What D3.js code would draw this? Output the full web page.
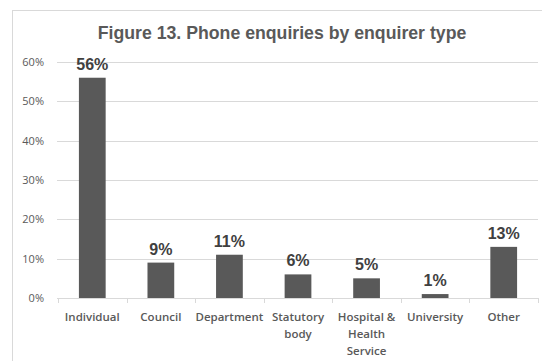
<!DOCTYPE html>
<html>
<head>
<meta charset="utf-8">
<script src="https://cdn.jsdelivr.net/npm/d3@7"></script>
<style>
  body { margin: 0; background: #fff; }
  svg { display: block; }
</style>
</head>
<body>
<div id="chart"></div>
<script>
var categories = ["Individual", "Council", "Department", "Statutory body", "Hospital & Health Service", "University", "Other"];
// label lines as they wrap under the axis
var labelLines = [["Individual"], ["Council"], ["Department"], ["Statutory", "body"], ["Hospital &", "Health", "Service"], ["University"], ["Other"]];
var values = [56, 9, 11, 6, 5, 1, 13];
var yTicks = [0, 10, 20, 30, 40, 50, 60];
var title = "Figure 13. Phone enquiries by enquirer type";

var width = 542, height = 361;

var svg = d3.select("#chart").append("svg")
    .attr("width", width)
    .attr("height", height);

// outer chart border
svg.append("rect")
    .attr("x", 12.5).attr("y", 10.5)
    .attr("width", 540).attr("height", 360)
    .attr("fill", "#fff")
    .attr("stroke", "#d9d9d9");

svg.append("text")
    .attr("x", 282).attr("y", 39)
    .attr("text-anchor", "middle")
    .attr("font-family", "Liberation Sans, Arial, sans-serif")
    .attr("font-weight", "bold")
    .attr("font-size", 17.7)
    .attr("fill", "#595959")
    .text(title);

var x = d3.scaleBand()
    .domain(categories)
    .range([58, 538])
    .padding(0);

var y = d3.scaleLinear()
    .domain([0, 60])
    .range([298, 62]);

// gridlines
svg.append("g").selectAll("line")
    .data(yTicks.filter(function(d) { return d > 0; }))
    .enter().append("line")
    .attr("x1", 57).attr("x2", 538)
    .attr("y1", function(d) { return Math.round(y(d)) + 0.5; })
    .attr("y2", function(d) { return Math.round(y(d)) + 0.5; })
    .attr("stroke", "#d9d9d9");

// y tick labels
svg.append("g").selectAll("text")
    .data(yTicks)
    .enter().append("text")
    .attr("x", 44)
    .attr("y", function(d) { return y(d) + 4; })
    .attr("text-anchor", "end")
    .attr("font-family", "Open Sans, sans-serif")
    .attr("font-size", 11)
    .attr("fill", "#595959")
    .text(function(d) { return d + "%"; });

var barW = x.bandwidth() * 0.39;

svg.append("g").selectAll("rect")
    .data(values)
    .enter().append("rect")
    .attr("x", function(d, i) { return x(categories[i]) + (x.bandwidth() - barW) / 2; })
    .attr("y", function(d) { return y(d); })
    .attr("width", barW)
    .attr("height", function(d) { return y(0) - y(d); })
    .attr("fill", "#595959");

// value labels
svg.append("g").selectAll("text")
    .data(values)
    .enter().append("text")
    .attr("x", function(d, i) { return x(categories[i]) + x.bandwidth() / 2; })
    .attr("y", function(d) { return y(d) - 8; })
    .attr("text-anchor", "middle")
    .attr("font-family", "Liberation Sans, Arial, sans-serif")
    .attr("font-weight", "bold")
    .attr("font-size", 16)
    .attr("fill", "#404040")
    .text(function(d) { return d + "%"; });

// x axis
var xAxis = svg.append("g");
xAxis.append("line")
    .attr("x1", 57).attr("x2", 538)
    .attr("y1", 298.5).attr("y2", 298.5)
    .attr("stroke", "#d9d9d9");

var bounds = categories.map(function(c) { return x(c); }).concat([x.range()[1]]);
xAxis.selectAll("line.tick")
    .data(bounds)
    .enter().append("line")
    .attr("class", "tick")
    .attr("x1", function(d) { return Math.round(d) + 0.5; })
    .attr("x2", function(d) { return Math.round(d) + 0.5; })
    .attr("y1", 298).attr("y2", 303)
    .attr("stroke", "#d9d9d9");

var catLabels = xAxis.selectAll("text")
    .data(categories)
    .enter().append("text")
    .attr("text-anchor", "middle")
    .attr("font-family", "Open Sans, sans-serif")
    .attr("font-weight", 600)
    .attr("font-size", 11.5)
    .attr("fill", "#595959");

catLabels.selectAll("tspan")
    .data(function(d, i) { return labelLines[i].map(function(l) { return {t: l, c: d}; }); })
    .enter().append("tspan")
    .attr("x", function(d) { return x(d.c) + x.bandwidth() / 2; })
    .attr("y", function(d, j) { return 321 + j * 17; })
    .text(function(d) { return d.t; });
</script>
</body>
</html>
